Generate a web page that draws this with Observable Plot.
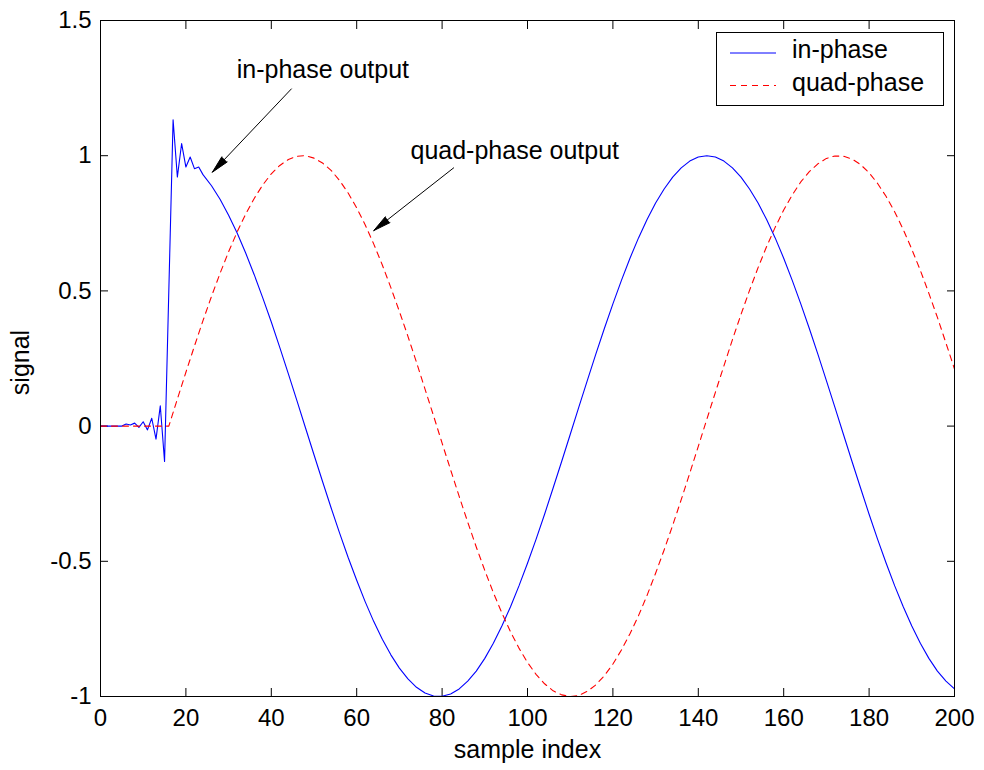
<!DOCTYPE html>
<html><head><meta charset="utf-8">
<script src="https://cdn.jsdelivr.net/npm/d3@7"></script>
<script src="https://cdn.jsdelivr.net/npm/@observablehq/plot@0.6"></script>
<style>
html,body{margin:0;padding:0;background:#fff;}
#wrap{position:relative;width:984px;height:770px;font-family:"Liberation Sans",Arial,sans-serif;}
#legend{position:absolute;left:716px;top:32px;width:228px;height:74px;border:1px solid #000;background:#fff;box-sizing:border-box;}
#legend svg{position:absolute;left:0;top:0;}
</style></head><body><div id="wrap"></div>
<script>
// ---- data ----
const inX = [0,1,2,3,4,5,6,7,8,9,10,11,12,13,14,15,17,18,19,20,21,22,23,
  24,26,28,30,32,34,36,38,40,42,44,46,48,50,52,54,56,58,60,62,64,66,68,70,72,74,76,78,80,82,84,86,88,90,92,94,96,98,
  100,102,104,106,108,110,112,114,116,118,120,122,124,126,128,130,132,134,136,138,140,142,144,146,148,150,152,154,156,158,
  160,162,164,166,168,170,172,174,176,178,180,182,184,186,188,190,192,194,196,198,200];
const inY = [0,0,0,0,0,0,0.008,0.004,0.011,-0.005,0.016,-0.014,0.029,-0.048,0.075,-0.131,1.133,0.921,1.045,0.958,0.995,0.952,0.958,
  0.930,0.889,0.839,0.780,0.714,0.640,0.560,0.474,0.385,0.290,0.193,0.094,-0.006,-0.106,-0.205,-0.302,-0.396,-0.486,-0.570,-0.650,-0.723,-0.788,-0.846,-0.895,-0.935,-0.966,-0.987,-0.998,-0.999,-0.991,-0.972,-0.943,-0.906,-0.859,-0.803,-0.739,-0.669,-0.591,
  -0.507,-0.419,-0.326,-0.229,-0.131,-0.031,0.069,0.168,0.266,0.361,0.452,0.539,0.621,0.696,0.764,0.825,0.877,0.921,0.955,0.980,0.995,1.000,0.995,0.980,0.955,0.921,0.877,0.825,0.764,0.696,
  0.621,0.539,0.452,0.361,0.266,0.168,0.069,-0.031,-0.131,-0.229,-0.326,-0.419,-0.507,-0.591,-0.668,-0.739,-0.803,-0.859,-0.906,-0.943,-0.972];
const quadX = [0,1,2,3,4,5,6,7,8,9,10,11,12,13,14,15,
  16,18,20,22,24,26,28,30,32,34,36,38,40,42,44,46,48,50,52,54,56,58,60,62,64,66,68,70,72,74,76,78,80,82,84,86,88,90,92,94,96,98,
  100,102,104,106,108,110,112,114,116,118,120,122,124,126,128,130,132,134,136,138,140,142,144,146,148,150,152,154,156,158,
  160,162,164,166,168,170,172,174,176,178,180,182,184,186,188,190,192,194,196,198,200];
const quadY = [0,0,0,0,0,0,0,0,0,0,0,0,0,0,0,0,
  0,0.100,0.199,0.296,0.390,0.480,0.565,0.645,0.718,0.784,0.842,0.892,0.933,0.964,0.986,0.998,1.000,0.991,0.973,0.946,0.908,0.862,0.807,0.744,0.673,0.596,0.512,0.424,0.332,0.236,0.137,0.038,-0.063,-0.162,-0.260,-0.355,-0.447,-0.534,-0.616,-0.691,-0.760,-0.821,
  -0.874,-0.918,-0.953,-0.979,-0.994,-1.000,-0.996,-0.981,-0.957,-0.923,-0.880,-0.828,-0.768,-0.701,-0.626,-0.544,-0.458,-0.367,-0.272,-0.174,-0.075,0.025,0.125,0.223,0.320,0.413,0.502,0.586,0.664,0.735,
  0.799,0.855,0.903,0.941,0.970,0.990,0.999,0.998,0.988,0.967,0.937,0.897,0.849,0.792,0.727,0.654,0.576,0.491,0.402,0.307,0.211];
const xTicks = [0,20,40,60,80,100,120,140,160,180,200];
const yTicks = [-1,-0.5,0,0.5,1,1.5];
const seriesNames = ["in-phase","quad-phase"];
const seriesColors = ["#0000ff","#ff0000"];
const annText = ["in-phase output","quad-phase output"];
const annTextX = [31.9, 72.6];
const annTextY = [1.286, 0.989];
const arrowX1 = [44.7, 82.7];
const arrowY1 = [1.247, 0.955];
const arrowX2 = [26.2, 64.0];
const arrowY2 = [0.939, 0.723];
const xLabel = "sample index";
const yLabel = "signal";

// ---- tables ----
const inData = inX.map((x, i) => ({x, y: inY[i]}));
const quadData = quadX.map((x, i) => ({x, y: quadY[i]}));
const annData = annText.map((t, i) => ({t, tx: annTextX[i], ty: annTextY[i], x1: arrowX1[i], y1: arrowY1[i], x2: arrowX2[i], y2: arrowY2[i]}));

const chart = Plot.plot({
  width: 984, height: 770,
  marginLeft: 100, marginRight: 30, marginTop: 20, marginBottom: 74,
  style: {fontFamily: "'Liberation Sans', Arial, sans-serif", fontSize: "24px", background: "white", color: "black", overflow: "visible"},
  x: {domain: [0, 200]},
  y: {domain: [-1, 1.5]},
  marks: [
    Plot.axisX({anchor: "bottom", ticks: xTicks, tickSize: -8, tickPadding: 20, label: null, tickFormat: d => String(d)}),
    Plot.axisX({anchor: "top", ticks: xTicks, tickSize: -8, tickFormat: () => "", label: null}),
    Plot.axisY({anchor: "left", ticks: yTicks, tickSize: -8, tickPadding: 17, label: null, tickFormat: d => String(d)}),
    Plot.axisY({anchor: "right", ticks: yTicks, tickSize: -8, tickFormat: () => "", label: null}),
    Plot.line(inData, {x: "x", y: "y", stroke: seriesColors[0], strokeWidth: 1.1}),
    Plot.line(quadData, {x: "x", y: "y", stroke: seriesColors[1], strokeWidth: 1.1, strokeDasharray: "6,5"}),
    Plot.arrow(annData, {x1: "x1", y1: "y1", x2: "x2", y2: "y2", stroke: "black", fill: "black", strokeWidth: 1, headLength: 27, headAngle: 24}),
    Plot.text(annData, {x: "tx", y: "ty", text: "t", textAnchor: "start", lineAnchor: "bottom", fill: "black", fontSize: 25}),
    Plot.text([xLabel], {frameAnchor: "bottom", textAnchor: "middle", lineAnchor: "bottom", dy: 61, text: d => d, fill: "black", fontSize: 25}),
    Plot.text([yLabel], {frameAnchor: "left", textAnchor: "middle", lineAnchor: "middle", dx: -80, dy: 4, rotate: -90, text: d => d, fill: "black", fontSize: 25}),
    Plot.frame({stroke: "black", strokeWidth: 1})
  ]
});
const wrap = document.getElementById("wrap");
wrap.appendChild(chart);

// legend
const leg = document.createElement("div");
leg.id = "legend";
const ns = "http://www.w3.org/2000/svg";
const lsvg = document.createElementNS(ns, "svg");
lsvg.setAttribute("width", "228"); lsvg.setAttribute("height", "74");
const rowsY = [20, 52.5];
const textY = [25, 58];
seriesNames.forEach((name, i) => {
  const ln = document.createElementNS(ns, "line");
  ln.setAttribute("x1", 13); ln.setAttribute("x2", 59);
  ln.setAttribute("y1", rowsY[i]); ln.setAttribute("y2", rowsY[i]);
  ln.setAttribute("stroke", seriesColors[i]); ln.setAttribute("stroke-width", 1);
  if (i === 1) ln.setAttribute("stroke-dasharray", "6,5");
  lsvg.appendChild(ln);
  const tx = document.createElementNS(ns, "text");
  tx.setAttribute("x", 75); tx.setAttribute("y", textY[i]);
  tx.setAttribute("font-size", "25px");
  tx.setAttribute("font-family", "'Liberation Sans', Arial, sans-serif");
  tx.textContent = name;
  lsvg.appendChild(tx);
});
leg.appendChild(lsvg);
wrap.appendChild(leg);
</script>
</body></html>
